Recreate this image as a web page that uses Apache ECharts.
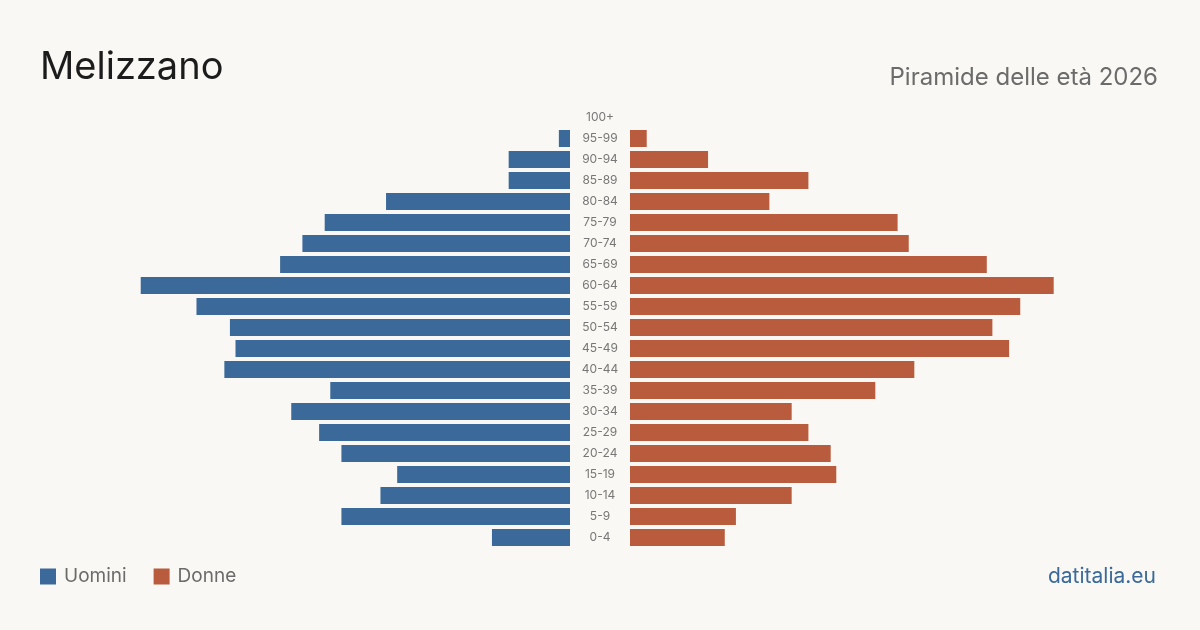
<!DOCTYPE html>
<html>
<head>
<meta charset="utf-8">
<script src="https://cdn.jsdelivr.net/npm/echarts@6/dist/echarts.min.js"></script>
<style>
  html, body { margin: 0; padding: 0; background: #f9f8f4; }
  #chart { width: 1200px; height: 630px; }
</style>
</head>
<body>
<div id="chart"></div>
<script>
// fasce d'età, dal basso verso l'alto
const ageGroups = ['0-4', '5-9', '10-14', '15-19', '20-24', '25-29', '30-34', '35-39', '40-44', '45-49',
    '50-54', '55-59', '60-64', '65-69', '70-74', '75-79', '80-84', '85-89', '90-94', '95-99', '100+'];
const men = [14, 41, 34, 31, 41, 45, 50, 43, 62, 60, 61, 67, 77, 52, 48, 44, 33, 11, 11, 2, 0];
const women = [17, 19, 29, 37, 36, 32, 29, 44, 51, 68, 65, 70, 76, 64, 50, 48, 25, 32, 14, 3, 0];

const BLUE = '#3b6a9a';
const ORANGE = '#b95c3d';
const AXIS_MAX = 80;

const chart = echarts.init(document.getElementById('chart'), null, { renderer: 'canvas' });

const font = 'Inter, "Noto Sans", sans-serif';

const option = {
    backgroundColor: '#f9f8f4',
    animation: false,
    textStyle: { fontFamily: font },
    title: [
        {
            text: 'Melizzano',
            left: 40,
            top: 49,
            padding: 0,
            textStyle: { fontSize: 38, fontWeight: 'normal', color: '#1c1c1c', fontFamily: font },
        },
        {
            text: 'Piramide delle età 2026',
            right: 42,
            top: 66,
            padding: 0,
            textStyle: { fontSize: 24, fontWeight: 'normal', color: '#6b6b6b', fontFamily: font },
        },
    ],
    legend: {
        left: 40,
        bottom: 44,
        padding: 0,
        icon: 'rect',
        itemWidth: 16,
        itemHeight: 16,
        itemGap: 27,
        textStyle: { fontSize: 19, color: '#6b6b6b', fontFamily: font, padding: [0, 0, 0, 3] },
        data: ['Uomini', 'Donne'],
    },
    grid: [
        { left: 124, width: 446, top: 107, height: 441 },
        { left: 630, width: 446, top: 107, height: 441 },
    ],
    xAxis: [
        {
            gridIndex: 0, type: 'value', min: 0, max: AXIS_MAX, inverse: true,
            show: false,
        },
        {
            gridIndex: 1, type: 'value', min: 0, max: AXIS_MAX,
            show: false,
        },
    ],
    yAxis: [
        {
            gridIndex: 0, type: 'category', data: ageGroups, position: 'right',
            axisLine: { show: false },
            axisTick: { show: false },
            axisLabel: {
                show: true, align: 'center', margin: 30,
                fontSize: 12, color: '#777', fontFamily: font,
            },
        },
        {
            gridIndex: 1, type: 'category', data: ageGroups,
            axisLine: { show: false },
            axisTick: { show: false },
            axisLabel: { show: false },
        },
    ],
    series: [
        {
            name: 'Uomini', type: 'bar', data: men,
            xAxisIndex: 0, yAxisIndex: 0,
            barCategoryGap: '19%',
            itemStyle: { color: BLUE },
        },
        {
            name: 'Donne', type: 'bar', data: women,
            xAxisIndex: 1, yAxisIndex: 1,
            barCategoryGap: '19%',
            itemStyle: { color: ORANGE },
        },
    ],
    graphic: [
        {
            type: 'text',
            right: 44,
            bottom: 43,
            style: {
                text: 'datitalia.eu',
                fontSize: 21,
                fontFamily: font,
                fill: BLUE,
            },
        },
    ],
};

chart.setOption(option, true);
</script>
</body>
</html>
